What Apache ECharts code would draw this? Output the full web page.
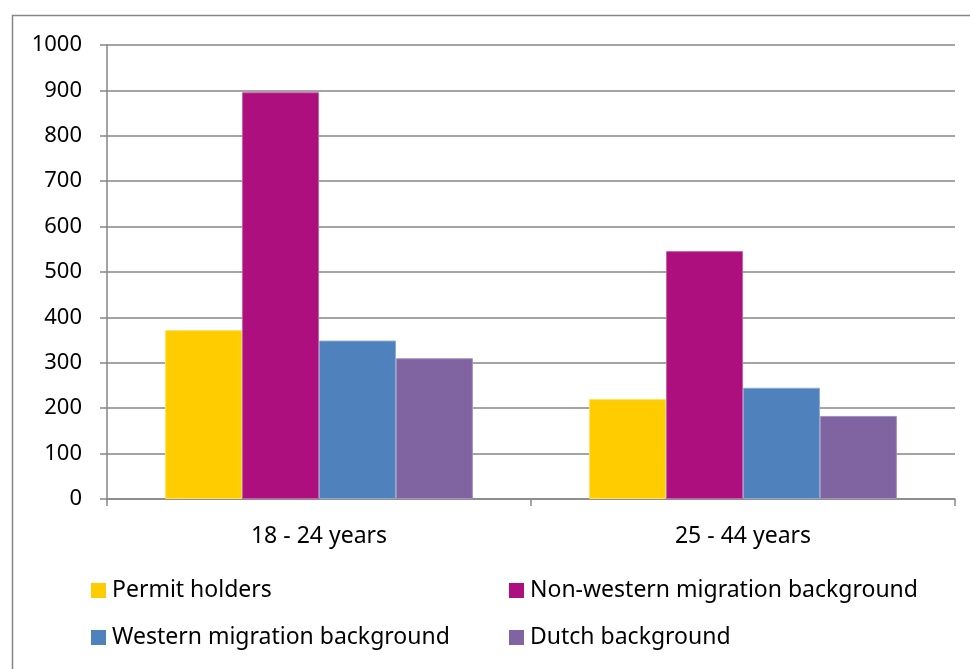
<!DOCTYPE html>
<html>
<head>
<meta charset="utf-8">
<style>
  html, body { margin: 0; padding: 0; background: #fff; }
  #chart { width: 970px; height: 669px; }
</style>
<script src="https://cdn.jsdelivr.net/npm/echarts@6/dist/echarts.min.js"></script>
</head>
<body>
<div id="chart"></div>
<script>
// Age groups on the x axis
const categories = ['18 - 24 years', '25 - 44 years'];

// Series values per age group
const permitHolders = [372, 220];
const nonWestern = [896, 546];
const western = [349, 245];
const dutch = [310, 183];

const seriesNames = [
  'Permit holders',
  'Non-western migration background',
  'Western migration background',
  'Dutch background'
];
const seriesValues = [permitHolders, nonWestern, western, dutch];
const seriesColors = ['#FFCC00', '#AE0F7F', '#4F81BD', '#8064A2'];
const seriesBorders = ['#FFE066', '#C85FA8', '#8AAAD6', '#A591BE'];

const FONT = '"Noto Sans", "Liberation Sans", sans-serif';
const FONT_SIZE = 23;
const AXIS_GREY = '#868686';

const chart = echarts.init(document.getElementById('chart'), null, { renderer: 'canvas' });

// Legend placed as a 2x2 block below the plot
const legendSlots = [
  { left: 91, top: 579 },
  { left: 509, top: 579 },
  { left: 91, top: 626 },
  { left: 509, top: 626 }
];

const legends = seriesNames.map((name, i) => ({
  data: [name],
  left: legendSlots[i].left,
  top: legendSlots[i].top,
  icon: 'rect',
  itemWidth: 15,
  itemHeight: 15,
  itemGap: 0,
  padding: 0,
  selectedMode: false,
  itemStyle: { borderWidth: 0 },
  textStyle: { fontFamily: FONT, fontSize: FONT_SIZE, color: '#000', padding: [0, 0, 0, 1] }
}));

chart.setOption({
  animation: false,
  backgroundColor: '#fff',
  graphic: [{
    type: 'rect',
    shape: { x: 12.5, y: 15.5, width: 1000, height: 1000 },
    style: { fill: 'none', stroke: AXIS_GREY, lineWidth: 1.5 },
    silent: true
  }],
  grid: { left: 107, right: 15, top: 45, bottom: 170 },
  legend: legends,
  xAxis: {
    type: 'category',
    data: categories,
    axisLine: { lineStyle: { color: AXIS_GREY, width: 1.5 } },
    axisTick: { show: true, length: 7, alignWithLabel: false, lineStyle: { color: AXIS_GREY, width: 1.5 } },
    axisLabel: { fontFamily: FONT, fontSize: FONT_SIZE, color: '#000', margin: 26 }
  },
  yAxis: {
    type: 'value',
    min: 0,
    max: 1000,
    interval: 100,
    axisLine: { show: true, lineStyle: { color: AXIS_GREY, width: 1.5 } },
    axisTick: { show: true, length: 7, lineStyle: { color: AXIS_GREY, width: 1.5 } },
    splitLine: { lineStyle: { color: AXIS_GREY, width: 1.5 } },
    axisLabel: {
      fontFamily: FONT, fontSize: 22, color: '#000', margin: 25,
      formatter: (v) => String(v)
    }
  },
  series: seriesNames.map((name, i) => ({
    name: name,
    type: 'bar',
    data: seriesValues[i],
    barGap: '0%',
    barCategoryGap: '27.4%',
    itemStyle: { color: seriesColors[i], borderColor: seriesBorders[i], borderWidth: 1 }
  }))
});
</script>
</body>
</html>
